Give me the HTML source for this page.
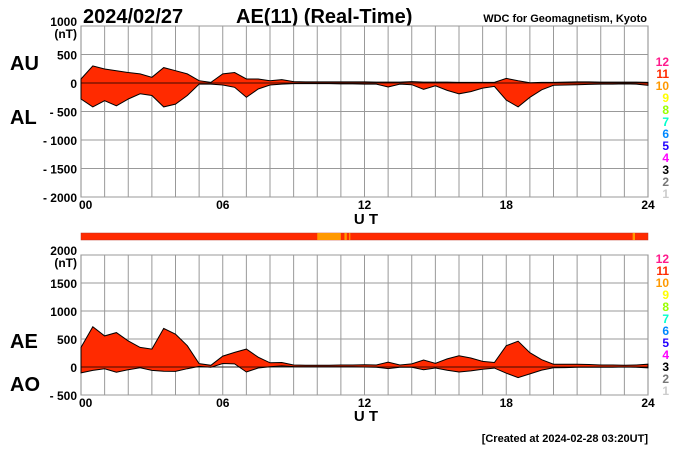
<!DOCTYPE html>
<html><head><meta charset="utf-8"><style>
body{margin:0;background:#fff}
svg{display:block;font-family:"Liberation Sans",Arial,sans-serif;font-weight:bold}
</style></head><body>
<svg id="c" width="700" height="450" viewBox="0 0 700 450">
<text x="83" y="23" font-size="20">2024/02/27</text>
<text x="236" y="23" font-size="20">AE(11) (Real-Time)</text>
<text x="647" y="22" font-size="11" text-anchor="end">WDC for Geomagnetism, Kyoto</text>
<text x="10" y="70" font-size="20">AU</text>
<text x="10" y="124" font-size="20">AL</text>
<text x="10" y="348" font-size="20">AE</text>
<text x="10" y="391" font-size="20">AO</text>
<text x="366" y="224" font-size="15" text-anchor="middle">U  T</text>
<text x="366" y="421" font-size="15" text-anchor="middle">U  T</text>
<text x="648" y="442" font-size="11" text-anchor="end">[Created at 2024-02-28 03:20UT]</text>
</svg>
<script>
const hours=[0,0.5,1,1.5,2,2.5,3,3.5,4,4.5,5,5.5,6,6.5,7,7.5,8,8.5,9,9.5,10,10.5,11,11.5,12,12.5,13,13.5,14,14.5,15,15.5,16,16.5,17,17.5,18,18.5,19,19.5,20,20.5,21,21.5,22,22.5,23,23.5,24];
const au=[70,300,245,215,185,160,100,270,215,160,40,10,160,185,70,70,40,60,25,20,20,20,20,20,20,15,15,15,25,15,15,15,10,10,10,10,80,40,5,10,10,15,20,20,15,15,15,15,10];
const al=[-280,-420,-310,-400,-280,-190,-220,-420,-370,-220,-20,-20,-35,-75,-250,-105,-35,-20,-10,-10,-10,-10,-15,-15,-20,-20,-70,-20,-30,-110,-50,-130,-190,-150,-90,-60,-300,-420,-250,-120,-40,-35,-30,-25,-20,-20,-15,-20,-40];
const ae=[350,720,555,615,465,350,320,690,585,380,60,30,195,260,320,175,75,80,35,30,30,30,35,35,40,35,85,35,55,125,65,145,200,160,100,80,380,460,255,130,50,50,50,45,35,35,30,35,50];
const ao=[-105,-60,-33,-93,-48,-15,-60,-75,-78,-30,10,-5,63,55,-90,-18,3,20,8,5,5,5,3,3,0,-3,-28,-3,-3,-48,-18,-58,-90,-70,-40,-20,-110,-190,-123,-55,-15,-10,-5,-3,-3,-3,0,-3,-15];
const topTicks=[1000,500,0,-500,-1000,-1500,-2000];
const botTicks=[2000,1500,1000,500,0,-500];
const xTicks=[0,6,12,18,24];
const xTickLabels=["00","06","12","18","24"];
const stripOrange=[[10,11],[11.15,11.25],[11.35,11.4],[23.35,23.45]];
const scaleNums=["12","11","10","9","8","7","6","5","4","3","2","1"];
const scaleCols=["#ff1a8c","#ff2a00","#ff9900","#ffff00","#99ff00","#00ffcc","#0088ff","#2200ff","#ff00ff","#000000","#777777","#cccccc"];

const NS="http://www.w3.org/2000/svg";
const svg=document.getElementById('c');
function mk(t,a){const e=document.createElementNS(NS,t);for(const k in a)e.setAttribute(k,a[k]);svg.appendChild(e);return e;}
const X0=81,X1=648;
const xs=h=>X0+(X1-X0)*h/24;
function panel(name,top,bot,vmax,vmin,ticks,upper,lower){
  const ys=v=>top+(vmax-v)/(vmax-vmin)*(bot-top);
  const bg=mk('rect',{x:X0,y:top,width:X1-X0,height:bot-top,fill:'#fff',stroke:'#888','stroke-width':1});
  
  
  for(let h=1;h<24;h++){
    const l=mk('line',{x1:xs(h),x2:xs(h),y1:top,y2:bot,stroke:'#999','stroke-width':1});
    
    
  }
  ticks.forEach((v,i)=>{
    const l=mk('line',{x1:X0,x2:X1,y1:ys(v),y2:ys(v),stroke:'#999','stroke-width':1});
    
    
    const lab=(v<0?'- '+(-v):''+v);
    const t=mk('text',{x:77,y:ys(v)+(i==0?0:5),'font-size':12,'text-anchor':'end'});
    t.textContent=lab;
    
    
    if(i==0){const u=mk('text',{x:77,y:ys(v)+12,'font-size':12,'text-anchor':'end'});u.textContent='(nT)';
      
      }
  });
  let d='M'+hours.map((h,i)=>xs(h).toFixed(1)+','+ys(upper[i]).toFixed(1)).join('L');
  for(let i=hours.length-1;i>=0;i--)d+='L'+xs(hours[i]).toFixed(1)+','+ys(lower[i]).toFixed(1);
  const a=mk('path',{d:d+'Z',fill:'#ff2a00',stroke:'#000','stroke-width':1});
  
  
  const z=mk('line',{x1:X0,x2:X1,y1:ys(0),y2:ys(0),stroke:'#000','stroke-width':0.8});
  
  
  xTicks.forEach((h,i)=>{
    const t=mk('text',{x:xs(h),y:bot+12,'font-size':12,'text-anchor':i==0?'start':'middle'});
    if(i==0)t.setAttribute('x',X0-2);
    t.textContent=xTickLabels[i];
    
    
  });
}
function scale(name,y0){
  scaleNums.forEach((s,i)=>{
    const t=mk('text',{x:669,y:y0+i*12,'font-size':12,'text-anchor':'end',fill:scaleCols[i]});
    t.textContent=s;
    
    
  });
}
panel('top',26,197,1000,-2000,topTicks,au,al);
panel('bottom',255,395,2000,-500,botTicks,ae,ao);
scale('top',66);
scale('bottom',263);
const strip=mk('rect',{x:X0,y:233,width:X1-X0,height:7,fill:'#ff2a00',stroke:'#c03020','stroke-width':0.5});


stripOrange.forEach(s=>{
  const r=mk('rect',{x:xs(s[0]),y:233,width:xs(s[1])-xs(s[0]),height:7,fill:'#ff9900'});
  
  
});
</script>
</body></html>
